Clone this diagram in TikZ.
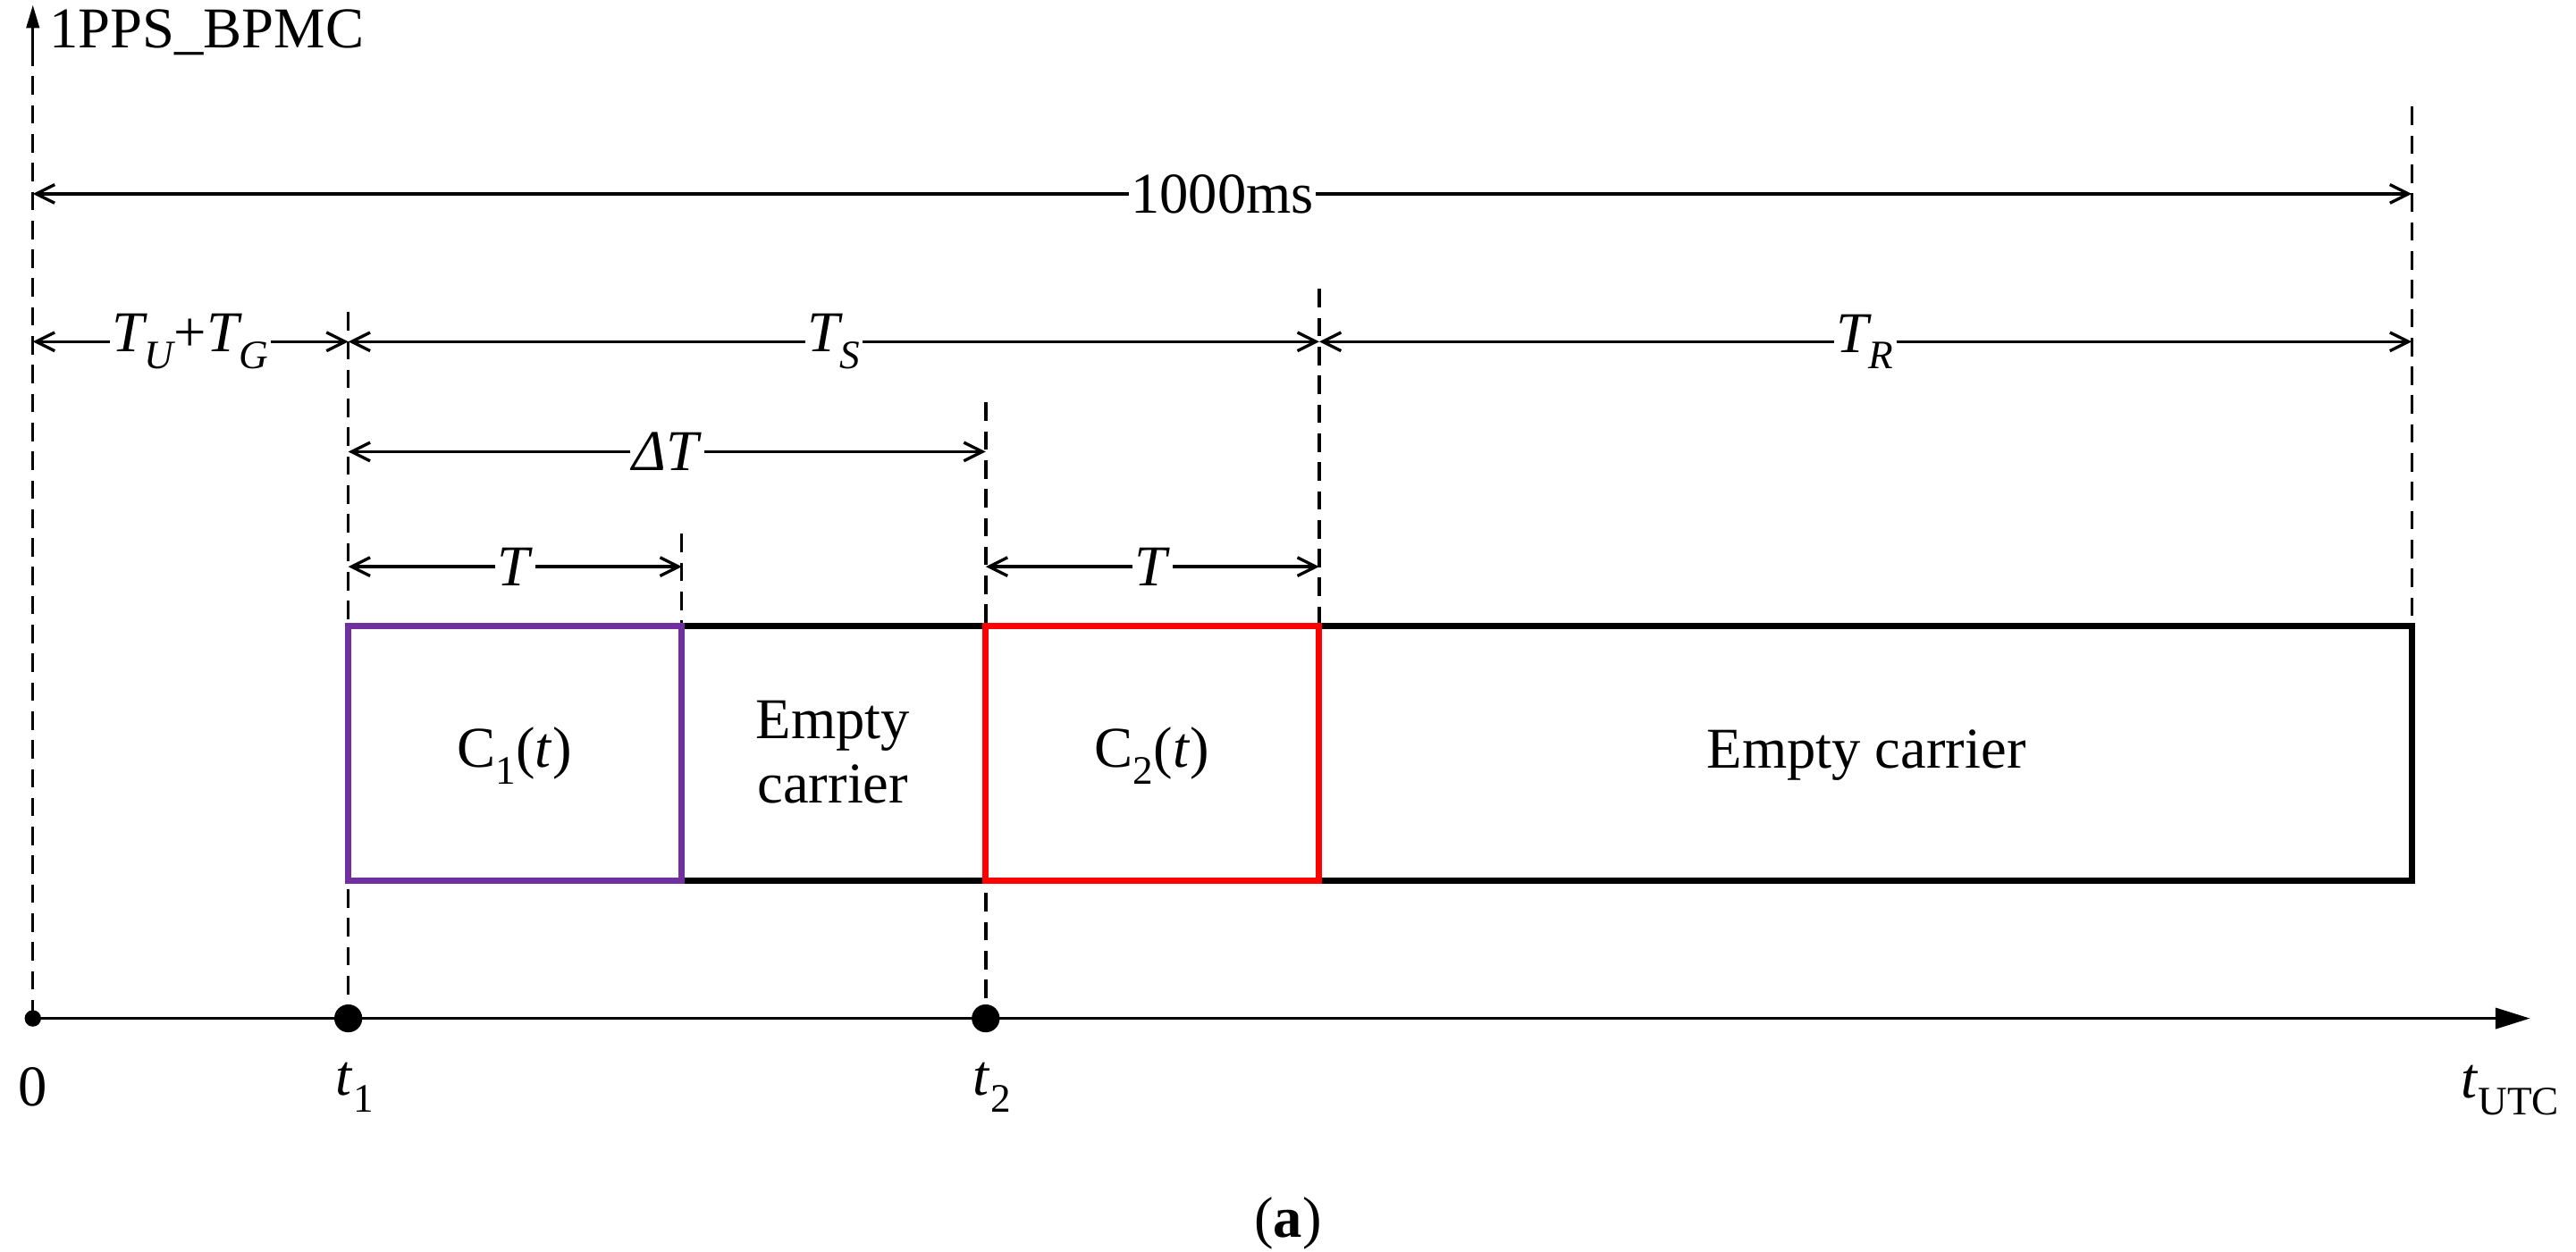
\documentclass[tikz,border=0pt]{standalone}
\usepackage{fontspec}
\setmainfont{Liberation Serif}
\usetikzlibrary{arrows.meta}
\definecolor{cpurple}{RGB}{112,48,160}
\begin{document}
\begin{tikzpicture}[x=0.05cm,y=-0.05cm,
  dim/.style={line width=2.6pt,{Straight Barb[length=16pt,width=16pt]}-{Straight Barb[length=16pt,width=16pt]}},
  dsh/.style={line width=2.6pt,dash pattern=on 16pt off 9pt},
  lbl/.style={fill=white,inner sep=2pt,font=\fontsize{50}{56}\selectfont},
  txt/.style={inner sep=0pt,font=\fontsize{50}{56}\selectfont},
  box/.style={line width=5.5pt}]
\useasboundingbox (0,0) rectangle (1568,762);
\coordinate (o) at (20,620);
\coordinate (ax) at (1540,620);
\coordinate (top) at (20,3);
\coordinate (t1) at (212,620);
\coordinate (t2) at (600,620);
\draw[line width=2.6pt,-{Triangle[length=30pt,width=18pt]}] (o) -- (ax);
\draw[dsh] (o) -- (20,30);
\draw[line width=2.6pt,-{Triangle[length=20pt,width=11pt]}] (20,32) -- (top);
\fill (o) circle (5);
\fill (t1) circle (8.5);
\fill (t2) circle (8.5);
\draw[dsh] (1468,65) -- (1468,381);
\draw[dsh] (212,190) -- (t1);
\draw[dsh] (803,176) -- (803,381);
\draw[dsh] (600,245) -- (t2);
\draw[dsh] (415,325) -- (415,381);
\draw[box] (415,381) rectangle (1468,536);
\draw[box,cpurple] (212,381) rectangle (415,536);
\draw[box,red] (600,381) rectangle (803,536);
\node[txt] (c1) at (313,460) {C\textsubscript{1}(\textit{t})};
\node[txt] (c2) at (701,460) {C\textsubscript{2}(\textit{t})};
\node[txt,align=center] (e1) at (507,458) {Empty\\carrier};
\node[txt] (e2) at (1136,460) {Empty carrier};
\draw[dim] (20,118) -- node[lbl] {1000ms} (1468,118);
\draw[dim] (20,208) -- node[lbl] {\textit{T\textsubscript{U}}+\textit{T\textsubscript{G}}} (212,208);
\draw[dim] (212,208) -- node[lbl] {\textit{T\textsubscript{S}}} (803,208);
\draw[dim] (803,208) -- node[lbl] {\textit{T\textsubscript{R}}} (1468,208);
\draw[dim] (212,275) -- node[lbl] {\textit{ΔT}} (600,275);
\draw[dim] (212,345) -- node[lbl] {\textit{T}} (415,345);
\draw[dim] (600,345) -- node[lbl] {\textit{T}} (803,345);
\node[txt,anchor=west] (name) at (30,20) {1PPS\_BPMC};
\node[txt] (l0) at (20,662) {0};
\node[txt] (l1) at (216,662) {\textit{t}\textsubscript{1}};
\node[txt] (l2) at (604,662) {\textit{t}\textsubscript{2}};
\node[txt] (lu) at (1528,664) {\textit{t}\textsubscript{UTC}};
\node[txt] (la) at (784,745) {(\textbf{a})};
\end{tikzpicture}
\end{document}
